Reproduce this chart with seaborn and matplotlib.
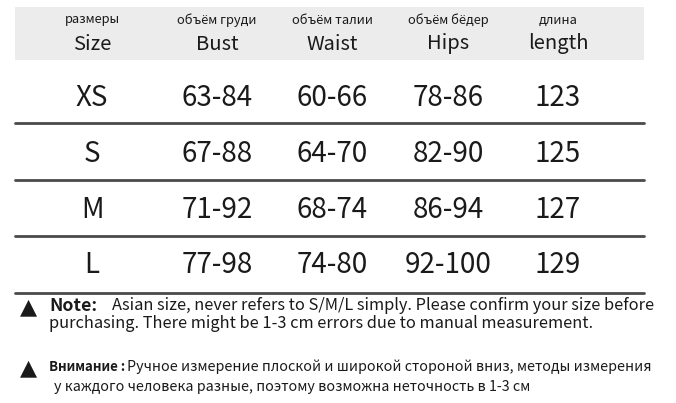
import matplotlib
matplotlib.use('Agg')
import matplotlib.pyplot as plt
import seaborn as sns

# Table content
columns_ru = ['размеры', 'объём груди', 'объём талии', 'объём бёдер', 'длина']
columns_en = ['Size', 'Bust', 'Waist', 'Hips', 'length']
sizes = ['XS', 'S', 'M', 'L']
bust = ['63-84', '67-88', '71-92', '77-98']
waist = ['60-66', '64-70', '68-74', '74-80']
hips = ['78-86', '82-90', '86-94', '92-100']
length = ['123', '125', '127', '129']

note_en = ['Asian size, never refers to S/M/L simply. Please confirm your size before',
           'purchasing. There might be 1-3 cm errors due to manual measurement.']
note_ru = ['Ручное измерение плоской и широкой стороной вниз, методы измерения',
           'у каждого человека разные, поэтому возможна неточность в 1-3 см']

sns.set_theme(style='white')
plt.rcParams['font.family'] = ['Noto Sans CJK SC', 'DejaVu Sans']

W, H = 676, 403
fig = plt.figure(figsize=(W / 100, H / 100), dpi=100)
ax = fig.add_axes([0, 0, 1, 1])
ax.set_xlim(0, W)
ax.set_ylim(H, 0)
ax.axis('off')

txt = '#1a1a1a'
col_x = [92, 217, 332, 448, 558]
left, right = 15, 644

# header band
ax.fill_between([left, right], 7, 60, color='#ececec', lw=0)
for x, ru, en in zip(col_x, columns_ru, columns_en):
    ax.text(x, 20, ru, ha='center', va='center', fontsize=9.3, color=txt)
    ax.text(x, 44, en, ha='center', va='center', fontsize=14.5, color=txt)

# body rows
row_y = [98, 154, 210, 265]
line_y = [123, 180, 236, 293]
rows = list(zip(sizes, bust, waist, hips, length))
for y, row in zip(row_y, rows):
    for x, val in zip(col_x, row):
        ax.text(x, y, val, ha='center', va='center', fontsize=20, color=txt)
sns.lineplot(x=[left, right] * len(line_y),
             y=[v for v in line_y for _ in range(2)],
             units=[i for i in range(len(line_y)) for _ in range(2)],
             estimator=None, color='#4a4a4a', lw=2, ax=ax)

# notes
ax.text(28, 307, '▲', ha='center', va='center', fontsize=16, color=txt,
        family=['DejaVu Sans'])
ax.text(49, 306, 'Note:', ha='left', va='center', fontsize=12.8,
        fontweight='bold', color=txt)
ax.text(112, 306, note_en[0], ha='left', va='center', fontsize=11.8, color=txt)
ax.text(49, 323, note_en[1], ha='left', va='center', fontsize=11.8, color=txt)

ax.text(28, 368, '▲', ha='center', va='center', fontsize=16, color=txt,
        family=['DejaVu Sans'])
ax.text(49, 367, 'Внимание :', ha='left', va='center', fontsize=9.6,
        fontweight='bold', color=txt)
ax.text(127, 367, note_ru[0], ha='left', va='center', fontsize=10.3, color=txt)
ax.text(54, 387, note_ru[1], ha='left', va='center', fontsize=10.3, color=txt)

fig.savefig('out.png', dpi=100)
